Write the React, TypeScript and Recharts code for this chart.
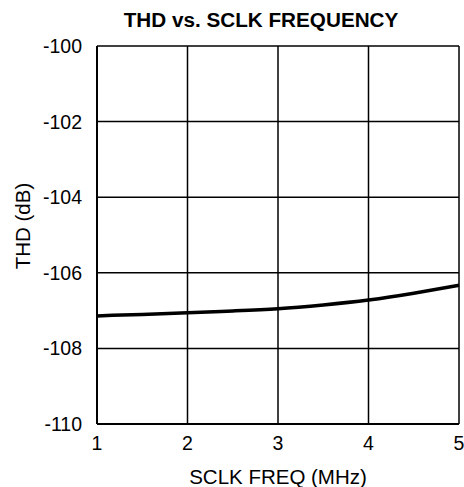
import React from "react";
import { LineChart, Line, XAxis, YAxis, CartesianGrid } from "recharts";

const freqs = [1, 1.5, 2, 2.5, 3, 3.5, 4, 4.5, 5];
const thd = [-107.14, -107.1, -107.06, -107.01, -106.95, -106.85, -106.72, -106.54, -106.33];
const xTicks = [1, 2, 3, 4, 5];
const yTicks = [-110, -108, -106, -104, -102, -100];

const data = freqs.map((f, i) => ({ f, thd: thd[i] }));

const FONT = "'Liberation Sans', Arial, sans-serif";

export default function App() {
  return (
    <div style={{ position: "absolute", left: 0, top: 0, width: 464, height: 487, background: "#fff", fontFamily: FONT }}>
      <div style={{ position: "absolute", left: 61, width: 400, top: 7, textAlign: "center", fontWeight: "bold", fontSize: 20.7, color: "#000", lineHeight: "26px" }}>
        THD vs. SCLK FREQUENCY
      </div>
      <div style={{ position: "absolute", left: 97, width: 362, top: 464, textAlign: "center", fontSize: 20.5, color: "#000", lineHeight: "26px" }}>
        SCLK FREQ (MHz)
      </div>
      <div style={{ position: "absolute", left: 23, top: 226, transform: "translate(-50%, -50%) rotate(-90deg)", fontSize: 20.5, color: "#000", whiteSpace: "nowrap", lineHeight: "26px" }}>
        THD (dB)
      </div>
      <LineChart width={464} height={487} data={data} margin={{ top: 46, right: 5, bottom: 0, left: 37 }}>
        <CartesianGrid stroke="#000" strokeWidth={1.5} />
        <XAxis
          dataKey="f"
          type="number"
          domain={[1, 5]}
          ticks={xTicks}
          axisLine={{ stroke: "#000", strokeWidth: 2 }}
          tickLine={false}
          tick={{ fill: "#000", fontSize: 19.5, fontFamily: FONT }}
          tickMargin={6}
          height={63}
        />
        <YAxis
          type="number"
          domain={[-110, -100]}
          ticks={yTicks}
          axisLine={{ stroke: "#000", strokeWidth: 2 }}
          tickLine={false}
          tick={{ fill: "#000", fontSize: 19.5, fontFamily: FONT }}
          tickMargin={9}
          width={60}
          allowDataOverflow
        />
        <Line type="natural" dataKey="thd" stroke="#000" strokeWidth={3.5} dot={false} isAnimationActive={false} />
      </LineChart>
    </div>
  );
}
